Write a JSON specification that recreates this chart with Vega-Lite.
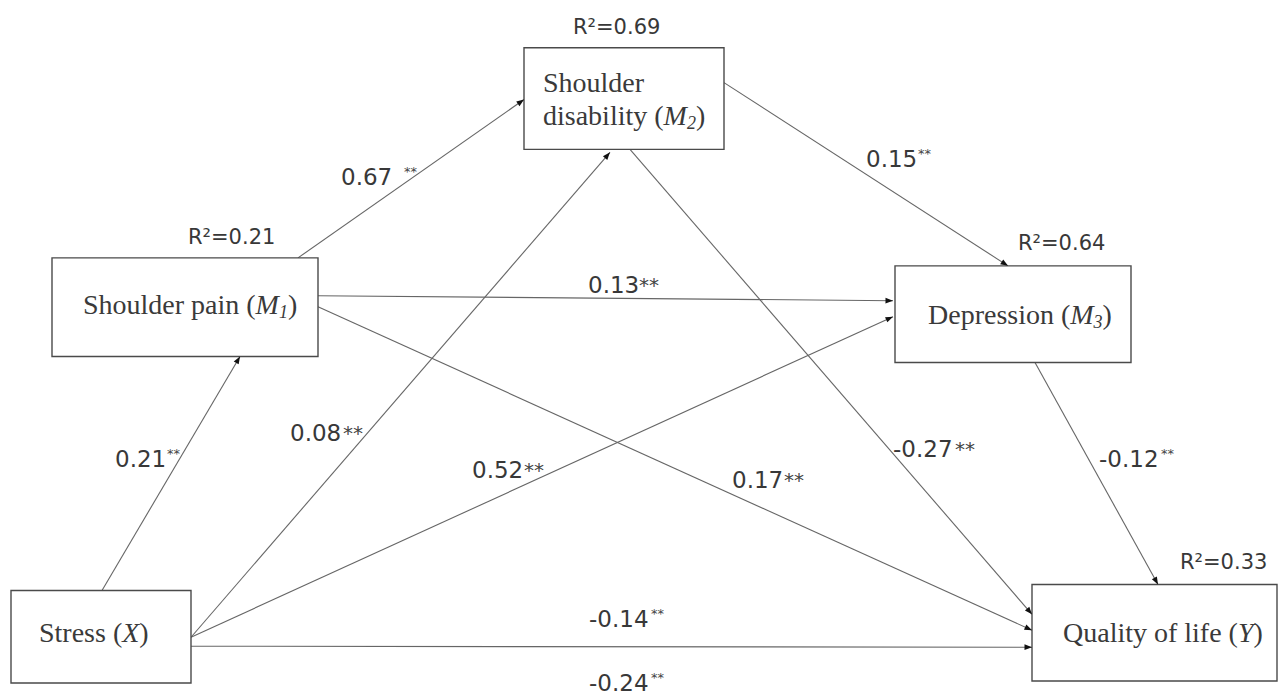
{
  "$schema": "https://vega.github.io/schema/vega-lite/v6.json",
  "autosize": {"type": "fit", "contains": "padding"},
  "width": 1282,
  "height": 696,
  "padding": 0,
  "background": "white",
  "config": {"view": {"stroke": null}},
  "datasets": {
    "boxes": [
      {"node": "M1", "x": 52, "xr": 318, "y": 259, "yb": 358},
      {"node": "M2", "x": 524, "xr": 724, "y": 48, "yb": 150},
      {"node": "M3", "x": 895, "xr": 1131, "y": 267, "yb": 364},
      {"node": "X", "x": 11, "xr": 191, "y": 593, "yb": 686},
      {"node": "Y", "x": 1032, "xr": 1277, "y": 587, "yb": 684}
    ],
    "arrows": [
      {"path": "X-M1", "x": 102, "y": 593, "xe": 240, "ye": 358, "ang": 30.4},
      {"path": "X-M2", "x": 191, "y": 640, "xe": 610, "ye": 153, "ang": 40.7},
      {"path": "X-M3", "x": 191, "y": 640, "xe": 893, "ye": 318, "ang": 65.4},
      {"path": "X-Y", "x": 191, "y": 649, "xe": 1032, "ye": 650, "ang": 90},
      {"path": "M1-M2", "x": 298, "y": 259, "xe": 524, "ye": 100, "ang": 54.9},
      {"path": "M1-M3", "x": 318, "y": 297, "xe": 893, "ye": 302, "ang": 90.5},
      {"path": "M1-Y", "x": 318, "y": 308, "xe": 1032, "ye": 633, "ang": 114.5},
      {"path": "M2-M3", "x": 724, "y": 83, "xe": 1008, "ye": 267, "ang": 122.9},
      {"path": "M2-Y", "x": 630, "y": 150, "xe": 1032, "ye": 617, "ang": 139.3},
      {"path": "M3-Y", "x": 1035, "y": 364, "xe": 1158, "ye": 587, "ang": 151.1}
    ],
    "coefs": [
      {"path": "M1-M2", "num": "0.67", "x": 341, "y": 186, "sx": 404, "stars": "small"},
      {"path": "M1-M3", "num": "0.13", "x": 588, "y": 294, "sx": 639, "stars": "mid"},
      {"path": "M2-M3", "num": "0.15", "x": 866, "y": 168, "sx": 918, "stars": "small"},
      {"path": "X-M1", "num": "0.21", "x": 115, "y": 469, "sx": 167, "stars": "small"},
      {"path": "X-M2", "num": "0.08", "x": 290, "y": 443, "sx": 343, "stars": "mid"},
      {"path": "X-M3", "num": "0.52", "x": 472, "y": 480, "sx": 524, "stars": "mid"},
      {"path": "X-Y direct", "num": "-0.14", "x": 589, "y": 630, "sx": 651, "stars": "small"},
      {"path": "X-Y total", "num": "-0.24", "x": 589, "y": 694, "sx": 651, "stars": "small"},
      {"path": "M1-Y", "num": "0.17", "x": 732, "y": 490, "sx": 784, "stars": "mid"},
      {"path": "M2-Y", "num": "-0.27", "x": 893, "y": 459, "sx": 955, "stars": "mid"},
      {"path": "M3-Y", "num": "-0.12", "x": 1099, "y": 469, "sx": 1161, "stars": "small"}
    ],
    "r2": [
      {"node": "M2", "t": "R²=0.69", "x": 573, "y": 28},
      {"node": "M1", "t": "R²=0.21", "x": 188, "y": 239},
      {"node": "M3", "t": "R²=0.64", "x": 1018, "y": 245},
      {"node": "Y", "t": "R²=0.33", "x": 1180, "y": 565}
    ],
    "nodeText": [
      {"t": "Shoulder pain (", "x": 83, "y": 307, "part": "roman"},
      {"t": "M", "x": 255.6, "y": 307, "part": "italic"},
      {"t": "1", "x": 278.9, "y": 307, "part": "sub"},
      {"t": ")", "x": 287.9, "y": 307, "part": "roman"},
      {"t": "Shoulder", "x": 543, "y": 84, "part": "roman"},
      {"t": "disability (", "x": 543, "y": 118, "part": "roman"},
      {"t": "M", "x": 663.6, "y": 118, "part": "italic"},
      {"t": "2", "x": 686.9, "y": 118, "part": "sub"},
      {"t": ")", "x": 695.9, "y": 118, "part": "roman"},
      {"t": "Depression (", "x": 928, "y": 317, "part": "roman"},
      {"t": "M", "x": 1070.3, "y": 317, "part": "italic"},
      {"t": "3", "x": 1093.6, "y": 317, "part": "sub"},
      {"t": ")", "x": 1102.6, "y": 317, "part": "roman"},
      {"t": "Stress (", "x": 39, "y": 637, "part": "roman"},
      {"t": "X", "x": 122.2, "y": 637, "part": "italic"},
      {"t": ")", "x": 139.3, "y": 637, "part": "roman"},
      {"t": "Quality of life (", "x": 1063, "y": 637, "part": "roman"},
      {"t": "Y", "x": 1238, "y": 637, "part": "italic"},
      {"t": ")", "x": 1253.6, "y": 637, "part": "roman"}
    ]
  },
  "layer": [
    {
      "data": {"name": "arrows"},
      "mark": {"type": "rule", "stroke": "#666666", "strokeWidth": 1.1},
      "encoding": {
        "x": {"field": "x", "type": "quantitative", "scale": {"domain": [0, 1282], "nice": false, "zero": false}, "axis": null},
        "y": {"field": "y", "type": "quantitative", "scale": {"domain": [0, 696], "nice": false, "zero": false, "reverse": true}, "axis": null},
        "x2": {"field": "xe"},
        "y2": {"field": "ye"}
      }
    },
    {
      "data": {"name": "boxes"},
      "mark": {"type": "rect", "fill": "white", "stroke": "#4a4a4a", "strokeWidth": 1.4},
      "encoding": {
        "x": {"field": "x", "type": "quantitative", "scale": {"domain": [0, 1282], "nice": false, "zero": false}, "axis": null},
        "x2": {"field": "xr"},
        "y": {"field": "y", "type": "quantitative", "scale": {"domain": [0, 696], "nice": false, "zero": false, "reverse": true}, "axis": null},
        "y2": {"field": "yb"}
      }
    },
    {
      "data": {"name": "arrows"},
      "mark": {"type": "point", "shape": "M0,0 L-0.38,1 L0.38,1 Z", "filled": true, "fill": "#111111", "strokeWidth": 0, "opacity": 1, "size": 225},
      "encoding": {
        "x": {"field": "xe", "type": "quantitative", "scale": {"domain": [0, 1282], "nice": false, "zero": false}, "axis": null},
        "y": {"field": "ye", "type": "quantitative", "scale": {"domain": [0, 696], "nice": false, "zero": false, "reverse": true}, "axis": null},
        "angle": {"field": "ang", "type": "quantitative", "scale": null}
      }
    },
    {
      "data": {"name": "nodeText"},
      "transform": [{"filter": "datum.part === 'roman'"}],
      "mark": {"type": "text", "font": "Liberation Serif", "fontSize": 28, "align": "left", "baseline": "middle", "color": "#3a3a3a"},
      "encoding": {
        "x": {"field": "x", "type": "quantitative", "scale": {"domain": [0, 1282], "nice": false, "zero": false}, "axis": null},
        "y": {"field": "y", "type": "quantitative", "scale": {"domain": [0, 696], "nice": false, "zero": false, "reverse": true}, "axis": null},
        "text": {"field": "t"}
      }
    },
    {
      "data": {"name": "nodeText"},
      "transform": [{"filter": "datum.part === 'italic'"}],
      "mark": {"type": "text", "font": "Liberation Serif", "fontStyle": "italic", "fontSize": 28, "align": "left", "baseline": "middle", "color": "#3a3a3a"},
      "encoding": {
        "x": {"field": "x", "type": "quantitative", "scale": {"domain": [0, 1282], "nice": false, "zero": false}, "axis": null},
        "y": {"field": "y", "type": "quantitative", "scale": {"domain": [0, 696], "nice": false, "zero": false, "reverse": true}, "axis": null},
        "text": {"field": "t"}
      }
    },
    {
      "data": {"name": "nodeText"},
      "transform": [{"filter": "datum.part === 'sub'"}],
      "mark": {"type": "text", "font": "Liberation Serif", "fontStyle": "italic", "fontSize": 18, "align": "left", "baseline": "middle", "dy": 7, "color": "#3a3a3a"},
      "encoding": {
        "x": {"field": "x", "type": "quantitative", "scale": {"domain": [0, 1282], "nice": false, "zero": false}, "axis": null},
        "y": {"field": "y", "type": "quantitative", "scale": {"domain": [0, 696], "nice": false, "zero": false, "reverse": true}, "axis": null},
        "text": {"field": "t"}
      }
    },
    {
      "data": {"name": "r2"},
      "mark": {"type": "text", "font": "DejaVu Sans", "fontSize": 21, "align": "left", "baseline": "middle", "color": "#383838"},
      "encoding": {
        "x": {"field": "x", "type": "quantitative", "scale": {"domain": [0, 1282], "nice": false, "zero": false}, "axis": null},
        "y": {"field": "y", "type": "quantitative", "scale": {"domain": [0, 696], "nice": false, "zero": false, "reverse": true}, "axis": null},
        "text": {"field": "t"}
      }
    },
    {
      "data": {"name": "coefs"},
      "mark": {"type": "text", "font": "DejaVu Sans", "fontSize": 23, "align": "left", "baseline": "alphabetic", "color": "#383838"},
      "encoding": {
        "x": {"field": "x", "type": "quantitative", "scale": {"domain": [0, 1282], "nice": false, "zero": false}, "axis": null},
        "y": {"field": "y", "type": "quantitative", "scale": {"domain": [0, 696], "nice": false, "zero": false, "reverse": true}, "axis": null},
        "text": {"field": "num"}
      }
    },
    {
      "data": {"name": "coefs"},
      "transform": [{"filter": "datum.stars === 'mid'"}],
      "mark": {"type": "text", "font": "DejaVu Sans", "fontSize": 20, "align": "left", "baseline": "alphabetic", "dy": -1, "color": "#444444", "text": "**"},
      "encoding": {
        "x": {"field": "sx", "type": "quantitative", "scale": {"domain": [0, 1282], "nice": false, "zero": false}, "axis": null},
        "y": {"field": "y", "type": "quantitative", "scale": {"domain": [0, 696], "nice": false, "zero": false, "reverse": true}, "axis": null}
      }
    },
    {
      "data": {"name": "coefs"},
      "transform": [{"filter": "datum.stars === 'small'"}],
      "mark": {"type": "text", "font": "DejaVu Sans", "fontSize": 13, "align": "left", "baseline": "alphabetic", "dy": -9, "color": "#444444", "text": "**"},
      "encoding": {
        "x": {"field": "sx", "type": "quantitative", "scale": {"domain": [0, 1282], "nice": false, "zero": false}, "axis": null},
        "y": {"field": "y", "type": "quantitative", "scale": {"domain": [0, 696], "nice": false, "zero": false, "reverse": true}, "axis": null}
      }
    }
  ]
}
